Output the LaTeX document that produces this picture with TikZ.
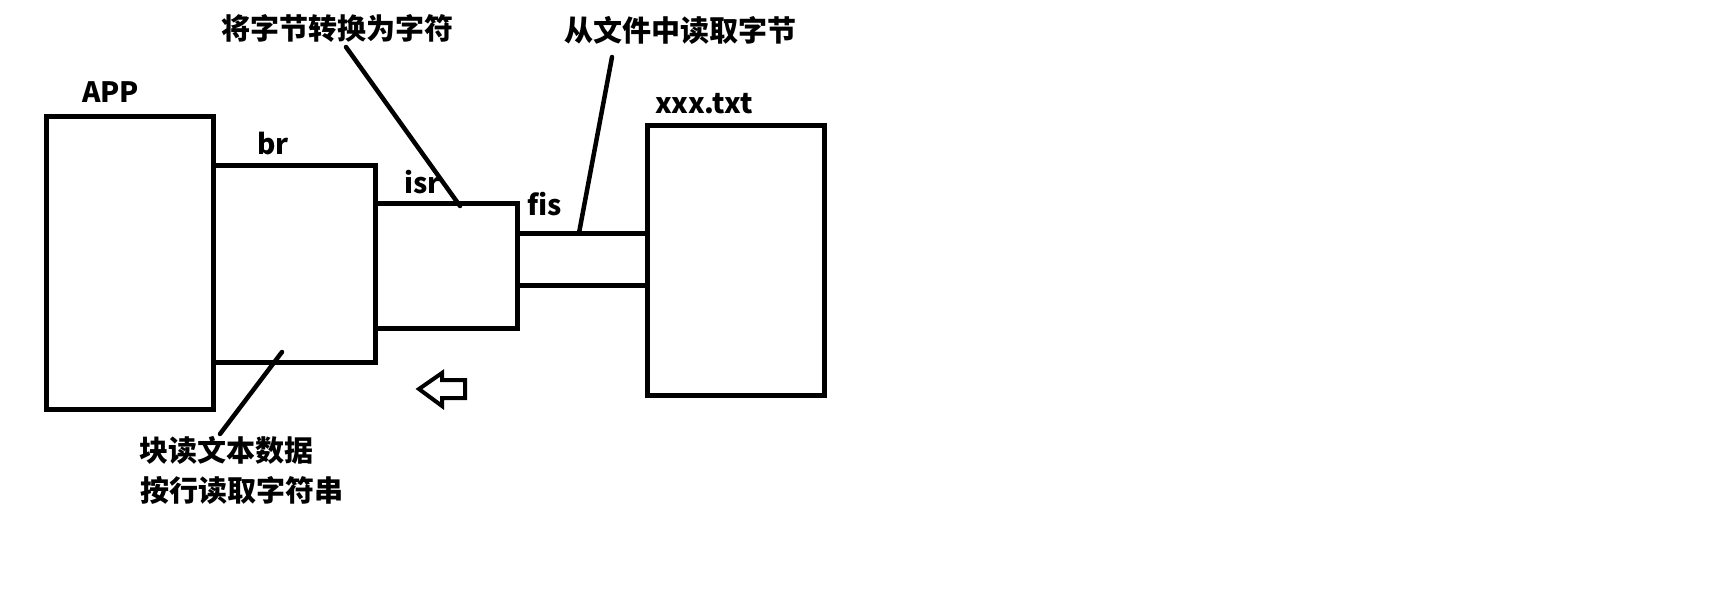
\documentclass[tikz,border=0pt]{standalone}
\usepackage{fontspec}
\newfontfamily\cjk{Noto Sans CJK SC}
\usetikzlibrary{positioning}

\begin{document}
\begin{tikzpicture}[x=1pt,y=-1pt]
\tikzset{stream/.style={draw, line width=4.5pt, rectangle, inner sep=0pt, anchor=north west},
         lbl/.style={inner sep=0pt, font=\cjk\bfseries\fontsize{28}{30}\selectfont},
         note/.style={inner sep=0pt, font=\cjk\bfseries\fontsize{29}{31}\selectfont},
         pointer/.style={line width=4.5pt, line cap=round}}
\useasboundingbox (0,0) rectangle (1721,605);

% the streams, from the program to the file
\node[stream, minimum width=167pt, minimum height=293pt] (app) at (44,114) {};
\node[stream, minimum width=162pt, minimum height=197pt] (br) at (211,163) {};
\node[stream, minimum width=142pt, minimum height=125pt] (isr) at (373,201) {};
\node[stream, minimum width=130pt, minimum height=52pt] (fis) at (515,231) {};
\node[stream, minimum width=177pt, minimum height=270pt] (txt) at (645,123) {};

\path (82,102) node[lbl, anchor=base west] (appname) {APP};
\path (257,154) node[lbl, anchor=base west] (brname) {br};
\path (404,193) node[lbl, anchor=base west] (isrname) {isr};
\path (527,215) node[lbl, anchor=base west] (fisname) {fis};
\path (655,113) node[lbl, anchor=base west] (txtname) {xxx.txt};

% notes
\node[note] (isrnote) at (337,28) {将字节转换为字符};
\node[note] (fisnote) at (680,30) {从文件中读取字节};
\node[note, anchor=west] (brnote1) at (139,450) {块读文本数据};
\node[note, anchor=west] (brnote2) at (140,490) {按行读取字符串};

\coordinate (isrfrom) at (346,47);
\coordinate (isrto) at (460,206);
\coordinate (fisfrom) at (612,57);
\coordinate (fisto) at (579,233);
\coordinate (brfrom) at (282,352);
\coordinate (brto) at (220,434);
\draw[pointer] (isrfrom) -- (isrto);
\draw[pointer] (fisfrom) -- (fisto);
\draw[pointer] (brfrom) -- (brto);

% direction of the data
\draw[line width=4pt, line join=miter]
  (465,380) -- (442,380) -- (442,373) -- (419,389) -- (442,406) -- (442,398) -- (465,398) -- cycle;

\end{tikzpicture}
\end{document}
